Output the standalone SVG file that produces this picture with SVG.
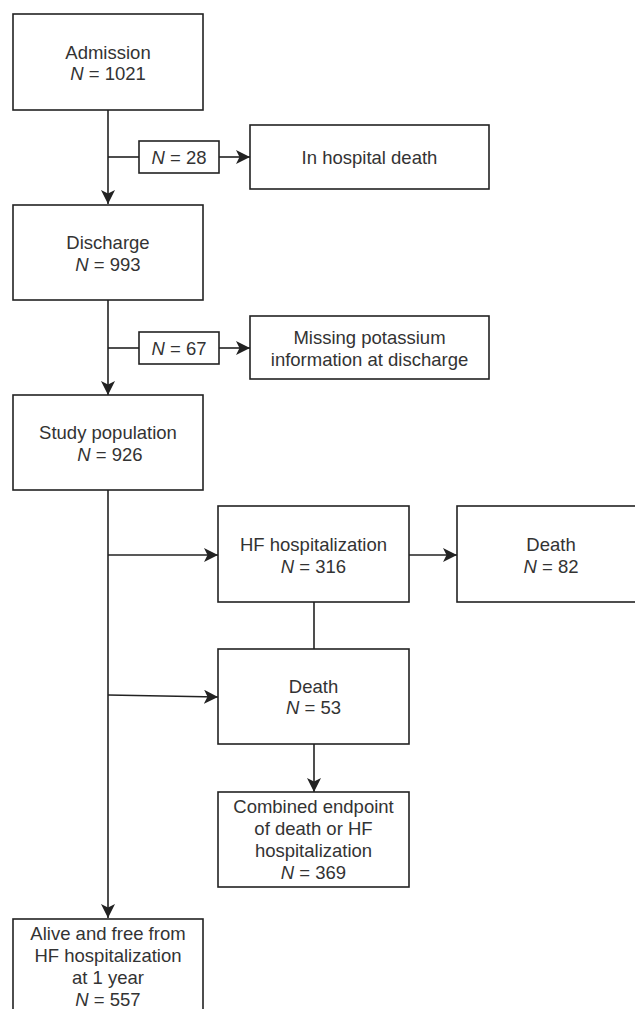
<svg xmlns="http://www.w3.org/2000/svg" width="635" height="1009" viewBox="0 0 635 1009">
<style>
.box{fill:#fff;stroke:#222;stroke-width:1.6}
.ln{fill:none;stroke:#222;stroke-width:1.6}
text{font-family:"Liberation Sans",Arial,sans-serif;font-size:18.5px;fill:#333;text-anchor:middle}
.i{font-style:italic}
</style>
<defs>
<marker id="ah" markerUnits="userSpaceOnUse" markerWidth="16" markerHeight="16" refX="14" refY="7" orient="auto">
<path d="M0,0 L14,7 L0,14 L3.5,7 Z" fill="#222"/>
</marker>
</defs>
<rect width="635" height="1009" fill="#fff"/>
<g id="connectors">
<line class="ln" x1="108" y1="110" x2="108" y2="204" marker-end="url(#ah)"/>
<line class="ln" x1="108" y1="157" x2="139" y2="157"/>
<line class="ln" x1="219" y1="157" x2="250" y2="157" marker-end="url(#ah)"/>
<line class="ln" x1="108" y1="300" x2="108" y2="395" marker-end="url(#ah)"/>
<line class="ln" x1="108" y1="348" x2="139" y2="348"/>
<line class="ln" x1="219" y1="348" x2="250" y2="348" marker-end="url(#ah)"/>
<line class="ln" x1="108" y1="490" x2="108" y2="918" marker-end="url(#ah)"/>
<line class="ln" x1="108" y1="555" x2="218" y2="555" marker-end="url(#ah)"/>
<line class="ln" x1="409" y1="555" x2="457" y2="555" marker-end="url(#ah)"/>
<line class="ln" x1="314" y1="602" x2="314" y2="649"/>
<line class="ln" x1="108" y1="695" x2="218" y2="697" marker-end="url(#ah)"/>
<line class="ln" x1="314" y1="744" x2="314" y2="792" marker-end="url(#ah)"/>
</g>
<g id="admission">
<rect class="box" x="13" y="14" width="190" height="96"/>
<text x="108" y="59">Admission</text>
<text x="108" y="80"><tspan class="i">N</tspan> = 1021</text>
</g>
<g id="n28">
<rect class="box" x="139" y="141" width="80" height="32"/>
<text x="179" y="164"><tspan class="i">N</tspan> = 28</text>
</g>
<g id="inhospital">
<rect class="box" x="250" y="125" width="239" height="64"/>
<text x="369.5" y="164">In hospital death</text>
</g>
<g id="discharge">
<rect class="box" x="13" y="205" width="190" height="95"/>
<text x="108" y="249">Discharge</text>
<text x="108" y="271"><tspan class="i">N</tspan> = 993</text>
</g>
<g id="n67">
<rect class="box" x="139" y="332" width="80" height="32"/>
<text x="179" y="355"><tspan class="i">N</tspan> = 67</text>
</g>
<g id="missing">
<rect class="box" x="250" y="316" width="239" height="63"/>
<text x="369.5" y="344">Missing potassium</text>
<text x="369.5" y="366">information at discharge</text>
</g>
<g id="study">
<rect class="box" x="13" y="395" width="190" height="95"/>
<text x="108" y="439">Study population</text>
<text x="110" y="461"><tspan class="i">N</tspan> = 926</text>
</g>
<g id="hfhosp">
<rect class="box" x="218" y="506" width="191" height="96"/>
<text x="313.5" y="551">HF hospitalization</text>
<text x="313.5" y="573"><tspan class="i">N</tspan> = 316</text>
</g>
<g id="death82">
<rect class="box" x="457" y="506" width="190" height="96"/>
<text x="551" y="551">Death</text>
<text x="551" y="573"><tspan class="i">N</tspan> = 82</text>
</g>
<g id="death53">
<rect class="box" x="218" y="649" width="191" height="95"/>
<text x="313.5" y="693">Death</text>
<text x="313.5" y="714"><tspan class="i">N</tspan> = 53</text>
</g>
<g id="combined">
<rect class="box" x="218" y="792" width="191" height="95"/>
<text x="313.5" y="813">Combined endpoint</text>
<text x="313.5" y="835">of death or HF</text>
<text x="313.5" y="857">hospitalization</text>
<text x="313.5" y="879"><tspan class="i">N</tspan> = 369</text>
</g>
<g id="alive">
<rect class="box" x="13" y="919" width="190" height="100"/>
<text x="108" y="940">Alive and free from</text>
<text x="108" y="962">HF hospitalization</text>
<text x="108" y="984">at 1 year</text>
<text x="108" y="1006"><tspan class="i">N</tspan> = 557</text>
</g>
</svg>
